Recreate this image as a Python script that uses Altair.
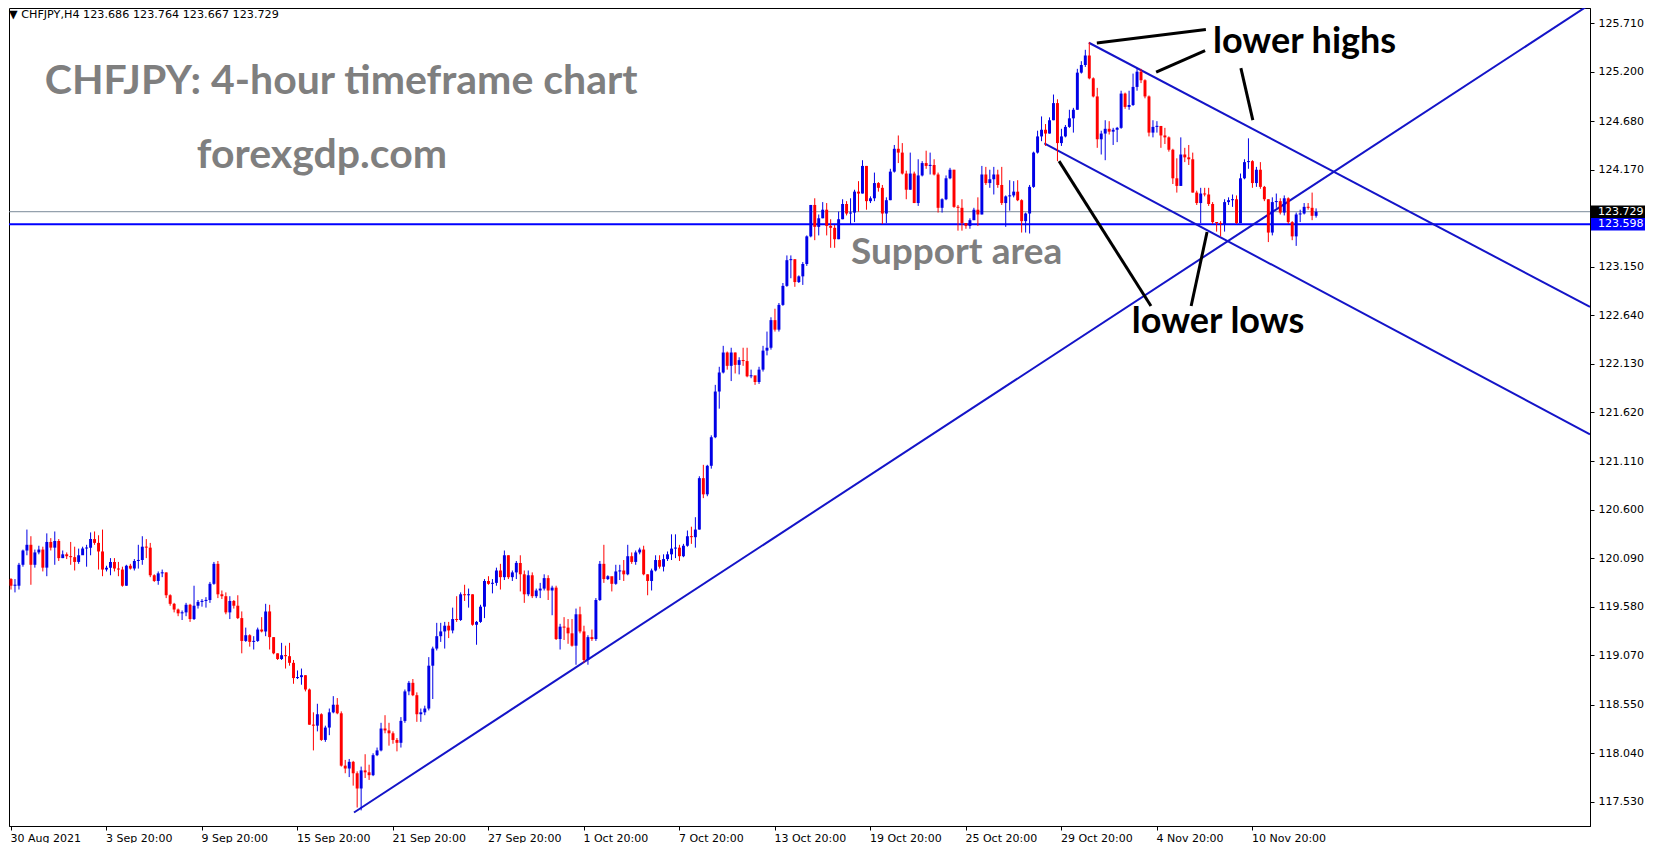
import altair as alt
import pandas as pd

# ---------------- data ----------------
first_open = 119.87
closes = [
    119.80, 119.80, 120.02, 120.17, 120.23, 120.02, 120.15, 120.18, 119.99, 120.26,
    120.20, 120.27, 120.09, 120.13, 120.11, 120.10, 120.05, 120.12, 120.19, 120.20,
    120.29, 120.25, 120.16, 119.97, 119.99, 120.05, 119.98, 119.97, 119.80, 120.01,
    119.98, 120.06, 120.07, 120.21, 120.20, 119.91, 119.85, 119.93, 119.94, 119.70,
    119.61, 119.55, 119.51, 119.52, 119.60, 119.45, 119.59, 119.63, 119.64, 119.65,
    119.82, 120.03, 119.71, 119.69, 119.52, 119.64, 119.59, 119.46, 119.22, 119.28,
    119.21, 119.22, 119.34, 119.32, 119.53, 119.26, 119.09, 119.03, 119.07, 119.06,
    118.99, 118.83, 118.84, 118.86, 118.71, 118.34, 118.33, 118.45, 118.18, 118.31,
    118.47, 118.55, 118.46, 117.91, 117.88, 117.95, 117.83, 117.67, 117.86, 117.84,
    117.81, 118.02, 118.07, 118.30, 118.28, 118.25, 118.18, 118.15, 118.38, 118.69,
    118.78, 118.65, 118.45, 118.47, 118.51, 118.96, 119.14, 119.27, 119.32, 119.38,
    119.33, 119.45, 119.44, 119.71, 119.70, 119.71, 119.39, 119.42, 119.58, 119.85,
    119.82, 119.83, 119.96, 119.89, 120.12, 119.89, 119.94, 120.04, 119.92, 119.71,
    119.91, 119.69, 119.75, 119.77, 119.88, 119.75, 119.78, 119.24, 119.37, 119.36,
    119.30, 119.17, 119.50, 119.32, 119.02, 119.26, 119.24, 119.65, 120.03, 119.87,
    119.90, 119.82, 119.95, 119.96, 119.92, 120.11, 120.05, 120.15, 120.18, 119.92,
    119.85, 119.96, 120.07, 120.00, 120.08, 120.13, 120.19, 120.20, 120.11, 120.22,
    120.32, 120.31, 120.39, 120.93, 120.76, 121.06, 121.36, 121.84, 122.04, 122.25,
    122.11, 122.25, 122.12, 122.17, 122.16, 122.00, 122.01, 121.94, 122.07, 122.27,
    122.30, 122.59, 122.49, 122.75, 122.95, 123.22, 123.23, 122.99, 123.05, 123.18,
    123.47, 123.80, 123.57, 123.66, 123.75, 123.58, 123.56, 123.44, 123.65, 123.81,
    123.71, 123.72, 123.94, 123.92, 124.21, 123.84, 123.87, 124.03, 123.98, 123.71,
    123.85, 124.15, 124.39, 124.35, 124.13, 123.96, 124.13, 123.82, 124.11, 124.24,
    124.21, 124.22, 124.12, 123.77, 123.86, 124.08, 124.17, 123.78, 123.77, 123.61,
    123.58, 123.64, 123.75, 123.70, 124.12, 124.03, 124.07, 124.12, 124.01, 123.82,
    123.89, 123.90, 123.94, 123.85, 123.63, 123.71, 123.99, 124.35, 124.52, 124.59,
    124.55, 124.69, 124.87, 124.45, 124.52, 124.62, 124.71, 124.80, 125.19, 125.27,
    125.37, 125.13, 124.94, 124.49, 124.55, 124.60, 124.57, 124.59, 124.61, 124.97,
    124.83, 124.85, 125.04, 125.20, 125.11, 124.94, 124.56, 124.62, 124.63, 124.53,
    124.51, 124.38, 124.08, 124.00, 124.33, 124.30, 124.28, 123.93, 123.82, 123.92,
    123.91, 123.81, 123.62, 123.61, 123.60, 123.83, 123.85, 123.86, 123.61, 124.08,
    124.25, 124.26, 124.03, 124.17, 123.99, 123.86, 123.51, 123.83, 123.84, 123.72,
    123.87, 123.62, 123.47, 123.70, 123.71, 123.78, 123.77, 123.686, 123.729,
]
highs = [
    119.88, 119.87, 120.04, 120.18, 120.39, 120.32, 120.18, 120.22, 120.21, 120.35,
    120.30, 120.37, 120.29, 120.17, 120.15, 120.26, 120.21, 120.19, 120.21, 120.23,
    120.36, 120.37, 120.33, 120.39, 120.01, 120.09, 120.09, 120.05, 120.00, 120.02,
    120.03, 120.08, 120.23, 120.32, 120.29, 120.25, 119.92, 119.95, 119.97, 119.94,
    119.71, 119.62, 119.56, 119.54, 119.62, 119.61, 119.80, 119.65, 119.66, 119.68,
    119.84, 120.05, 120.06, 119.75, 119.73, 119.69, 119.65, 119.70, 119.53, 119.36,
    119.29, 119.27, 119.36, 119.47, 119.61, 119.60, 119.26, 119.09, 119.20, 119.17,
    119.20, 119.02, 118.91, 118.93, 118.86, 118.72, 118.47, 118.56, 118.46, 118.33,
    118.51, 118.64, 118.62, 118.48, 117.97, 117.98, 117.96, 117.85, 117.90, 118.03,
    117.92, 118.04, 118.10, 118.36, 118.44, 118.36, 118.27, 118.20, 118.42, 118.71,
    118.80, 118.82, 118.68, 118.51, 118.54, 119.05, 119.16, 119.41, 119.41, 119.42,
    119.42, 119.57, 119.69, 119.73, 119.81, 119.77, 119.71, 119.43, 119.60, 119.87,
    119.90, 119.87, 119.99, 120.03, 120.17, 120.12, 119.96, 120.06, 120.12, 119.96,
    119.96, 119.94, 119.77, 119.83, 119.92, 119.91, 119.80, 119.80, 119.40, 119.47,
    119.45, 119.45, 119.56, 119.58, 119.38, 119.28, 119.34, 119.67, 120.06, 120.23,
    119.91, 119.84, 120.02, 120.02, 120.07, 120.23, 120.15, 120.17, 120.20, 120.22,
    119.92, 119.98, 120.12, 120.12, 120.13, 120.16, 120.34, 120.34, 120.23, 120.24,
    120.38, 120.42, 120.52, 120.95, 121.07, 121.07, 121.38, 121.91, 122.10, 122.32,
    122.26, 122.30, 122.25, 122.20, 122.30, 122.30, 122.07, 122.00, 122.10, 122.32,
    122.47, 122.62, 122.71, 122.77, 122.98, 123.27, 123.27, 123.23, 123.06, 123.20,
    123.48, 123.80, 123.87, 123.70, 123.83, 123.82, 123.65, 123.59, 123.73, 123.86,
    123.84, 123.87, 123.96, 124.05, 124.27, 124.21, 123.89, 124.14, 124.04, 124.01,
    123.88, 124.18, 124.43, 124.53, 124.45, 124.16, 124.35, 124.15, 124.28, 124.26,
    124.37, 124.35, 124.28, 124.14, 123.87, 124.11, 124.19, 124.17, 123.80, 123.86,
    123.61, 123.66, 123.77, 123.88, 124.21, 124.20, 124.17, 124.20, 124.17, 124.20,
    123.90, 124.06, 124.05, 124.06, 123.86, 123.72, 124.01, 124.36, 124.58, 124.73,
    124.65, 124.72, 124.96, 124.91, 124.60, 124.64, 124.80, 124.82, 125.23, 125.31,
    125.43, 125.51, 125.14, 125.03, 124.58, 124.69, 124.68, 124.61, 124.62, 125.00,
    124.98, 125.00, 125.18, 125.24, 125.23, 125.12, 124.95, 124.69, 124.68, 124.61,
    124.61, 124.52, 124.39, 124.29, 124.51, 124.40, 124.43, 124.35, 123.95, 123.98,
    123.98, 123.98, 123.83, 123.62, 123.63, 123.86, 123.88, 123.91, 123.90, 124.13,
    124.28, 124.50, 124.27, 124.20, 124.25, 124.00, 123.86, 123.88, 123.92, 123.87,
    123.90, 123.88, 123.63, 123.72, 123.75, 123.82, 123.82, 123.93, 123.764,
]
lows = [
    119.76, 119.73, 119.76, 120.00, 120.12, 119.81, 119.99, 120.13, 119.95, 119.90,
    120.17, 120.02, 120.06, 120.09, 120.08, 120.02, 119.96, 120.03, 120.15, 120.00,
    120.12, 120.23, 119.97, 119.90, 119.95, 119.91, 119.95, 119.90, 119.79, 119.80,
    119.97, 119.96, 119.98, 120.02, 120.09, 119.89, 119.84, 119.81, 119.89, 119.67,
    119.59, 119.52, 119.48, 119.44, 119.48, 119.42, 119.44, 119.56, 119.58, 119.57,
    119.62, 119.81, 119.67, 119.66, 119.50, 119.45, 119.56, 119.45, 119.09, 119.21,
    119.16, 119.13, 119.21, 119.31, 119.27, 119.13, 119.08, 119.02, 119.02, 118.93,
    118.96, 118.77, 118.82, 118.76, 118.69, 118.34, 118.07, 118.27, 118.17, 118.16,
    118.23, 118.46, 118.45, 117.90, 117.83, 117.79, 117.70, 117.47, 117.44, 117.78,
    117.76, 117.80, 118.01, 118.06, 118.25, 118.12, 118.14, 118.06, 118.10, 118.36,
    118.65, 118.64, 118.37, 118.37, 118.44, 118.49, 118.61, 119.12, 119.21, 119.14,
    119.25, 119.30, 119.42, 119.43, 119.64, 119.57, 119.38, 119.18, 119.41, 119.46,
    119.81, 119.72, 119.80, 119.76, 119.86, 119.87, 119.85, 119.87, 119.74, 119.62,
    119.69, 119.67, 119.67, 119.67, 119.75, 119.65, 119.49, 119.23, 119.13, 119.23,
    119.19, 119.16, 118.97, 119.30, 118.99, 118.97, 119.22, 119.22, 119.64, 119.83,
    119.86, 119.74, 119.81, 119.86, 119.85, 119.91, 120.03, 120.02, 120.13, 119.91,
    119.70, 119.75, 119.95, 119.98, 119.95, 120.06, 120.07, 120.09, 120.06, 120.10,
    120.21, 120.24, 120.20, 120.39, 120.72, 120.74, 121.03, 121.35, 121.66, 122.03,
    122.07, 121.95, 122.03, 122.02, 122.11, 121.99, 121.98, 121.91, 121.92, 122.05,
    122.22, 122.28, 122.47, 122.47, 122.74, 122.94, 123.03, 122.94, 122.98, 122.96,
    123.16, 123.46, 123.43, 123.48, 123.66, 123.48, 123.35, 123.35, 123.44, 123.65,
    123.69, 123.60, 123.62, 123.73, 123.92, 123.75, 123.82, 123.84, 123.94, 123.60,
    123.61, 123.85, 124.14, 124.24, 124.12, 123.86, 123.96, 123.82, 123.79, 124.10,
    124.18, 124.12, 124.11, 123.72, 123.72, 123.85, 124.07, 123.77, 123.53, 123.53,
    123.55, 123.55, 123.64, 123.58, 123.70, 124.01, 123.98, 123.91, 123.98, 123.80,
    123.57, 123.74, 123.88, 123.84, 123.51, 123.51, 123.50, 123.98, 124.34, 124.47,
    124.42, 124.55, 124.69, 124.26, 124.42, 124.51, 124.61, 124.56, 124.80, 125.18,
    125.25, 125.12, 124.93, 124.40, 124.33, 124.27, 124.54, 124.43, 124.46, 124.60,
    124.81, 124.80, 124.84, 125.00, 125.08, 124.92, 124.52, 124.51, 124.56, 124.40,
    124.44, 124.36, 124.02, 123.93, 124.00, 124.25, 124.22, 123.93, 123.80, 123.61,
    123.89, 123.79, 123.60, 123.52, 123.47, 123.52, 123.80, 123.78, 123.60, 123.61,
    124.07, 124.18, 123.98, 123.99, 123.97, 123.84, 123.41, 123.48, 123.77, 123.70,
    123.69, 123.60, 123.43, 123.37, 123.62, 123.70, 123.75, 123.64, 123.667,
]

tick_bars = [0, 24, 48, 72, 96, 120, 144, 168, 192, 216, 240, 264, 288, 312]
tick_labels = ["30 Aug 2021", "3 Sep 20:00", "9 Sep 20:00", "15 Sep 20:00",
               "21 Sep 20:00", "27 Sep 20:00", "1 Oct 20:00", "7 Oct 20:00",
               "13 Oct 20:00", "19 Oct 20:00", "25 Oct 20:00", "29 Oct 20:00",
               "4 Nov 20:00", "10 Nov 20:00"]
price_ticks = [125.710, 125.200, 124.680, 124.170, 123.150, 122.640, 122.130,
               121.620, 121.110, 120.600, 120.090, 119.580, 119.070, 118.550,
               118.040, 117.530]

bid_price = 123.729
support_price = 123.598

# trend lines (bar index, price)
trend_id = ["up", "up", "hi", "hi", "lo", "lo"]
trend_bar = [86.2, 396.84, 270.9, 396.84, 259.7, 396.84]
trend_price = [117.418, 125.908, 125.504, 122.73, 124.447, 121.39]

# black pointer lines
ptr_id = ["a1", "a1", "a2", "a2", "a3", "a3", "b1", "b1", "b2", "b2"]
ptr_bar = [272.9, 300.3, 287.8, 300.1, 309.1, 312.1, 263.4, 286.5, 300.6, 296.6]
ptr_price = [125.501, 125.643, 125.196, 125.422, 125.238, 124.692,
             124.261, 122.738, 123.516, 122.738]

# ---------------- build tables ----------------
n = len(closes)
opens = [first_open] + closes[:-1]
df = pd.DataFrame({"i": list(range(n)), "open": opens, "high": highs,
                   "low": lows, "close": closes})

BLUE = "#0000e6"
RED = "#ff0000"
LINE_BLUE = "#1414c8"

X_DOM = [-0.503, 396.84]
Y_DOM = [117.276, 125.869]
W, H = 1581, 818

label_arr = "[" + ",".join("'%s'" % s for s in tick_labels) + "]"

xscale = alt.Scale(domain=X_DOM, nice=False, zero=False)
yscale = alt.Scale(domain=Y_DOM, nice=False, zero=False)

xaxis = alt.Axis(values=tick_bars, labelExpr=label_arr + "[round(datum.value/24)]",
                 orient="bottom", tickSize=4, labelAlign="left", labelPadding=2,
                 labelOffset=-1, title=None, grid=False, labelOverlap=False,
                 labelFlush=False)
yaxis = alt.Axis(values=price_ticks, format=".3f", orient="right", tickSize=4,
                 labelPadding=4, title=None, grid=False, labelOverlap=False,
                 labelFlush=False)

color_cond = alt.condition("datum.close >= datum.open", alt.value(BLUE), alt.value(RED))

base = alt.Chart(df)

wicks = base.mark_rule(strokeWidth=1).encode(
    x=alt.X("i:Q", scale=xscale, axis=xaxis),
    y=alt.Y("low:Q", scale=yscale, axis=yaxis),
    y2="high:Q",
    color=color_cond,
)

bodies = base.transform_calculate(
    xl="datum.i - 0.37",
    xr="datum.i + 0.37",
    bb="min(datum.open, datum.close)",
    bt="max(max(datum.open, datum.close), min(datum.open, datum.close) + 0.011)",
).mark_rect().encode(
    x=alt.X("xl:Q", scale=xscale),
    x2="xr:Q",
    y=alt.Y("bb:Q", scale=yscale),
    y2="bt:Q",
    color=color_cond,
)

hlines_df = pd.DataFrame({"p": [bid_price, support_price]})
bid_line = alt.Chart(hlines_df.iloc[[0]]).mark_rule(color="#7a8a99", strokeWidth=1).encode(
    y=alt.Y("p:Q", scale=yscale))
sup_line = alt.Chart(hlines_df.iloc[[1]]).mark_rule(color="#0000ff", strokeWidth=2).encode(
    y=alt.Y("p:Q", scale=yscale))

trend_df = pd.DataFrame({"id": trend_id, "i": trend_bar, "p": trend_price})
trends = alt.Chart(trend_df).mark_line(color=LINE_BLUE, strokeWidth=2, clip=True).encode(
    x=alt.X("i:Q", scale=xscale), y=alt.Y("p:Q", scale=yscale), detail="id:N")

ptr_df = pd.DataFrame({"id": ptr_id, "i": ptr_bar, "p": ptr_price})
pointers = alt.Chart(ptr_df).mark_line(color="#000000", strokeWidth=3, clip=True).encode(
    x=alt.X("i:Q", scale=xscale), y=alt.Y("p:Q", scale=yscale), detail="id:N")

gray_txt_df = pd.DataFrame({
    "t": ["CHFJPY: 4-hour timeframe chart", "forexgdp.com", "Support area"],
    "i": [8.5, 46.7, 211.1],
    "p": [125.091, 124.314, 123.295],
})
gray_big = alt.Chart(gray_txt_df.iloc[0:2]).mark_text(
    font="Lato", fontWeight="bold", fontSize=41, color="#7f7f7f",
    align="left", baseline="middle").encode(
    x=alt.X("i:Q", scale=xscale), y=alt.Y("p:Q", scale=yscale), text="t:N")
gray_sup = alt.Chart(gray_txt_df.iloc[2:3]).mark_text(
    font="Lato", fontWeight="bold", fontSize=37, color="#7f7f7f",
    align="left", baseline="middle").encode(
    x=alt.X("i:Q", scale=xscale), y=alt.Y("p:Q", scale=yscale), text="t:N")

black_txt_df = pd.DataFrame({"t": ["lower highs", "lower lows"],
                             "i": [302.1, 281.7], "p": [125.511, 122.570]})
black_txt = alt.Chart(black_txt_df).mark_text(
    font="Lato", fontWeight="bold", fontSize=36, color="#000000",
    align="left", baseline="middle").encode(
    x=alt.X("i:Q", scale=xscale), y=alt.Y("p:Q", scale=yscale), text="t:N")

header_df = pd.DataFrame({"t": ["\u25bc CHFJPY,H4  123.686 123.764 123.667 123.729"],
                          "i": [X_DOM[0]], "p": [125.793]})
header = alt.Chart(header_df).mark_text(
    font="DejaVu Sans", fontSize=11.2, color="#000000", align="left",
    baseline="middle", dx=0).encode(
    x=alt.X("i:Q", scale=xscale), y=alt.Y("p:Q", scale=yscale), text="t:N")

box_df = pd.DataFrame({"p": [bid_price, support_price],
                       "lo": [bid_price - 0.066, support_price - 0.066],
                       "hi": [bid_price + 0.066, support_price + 0.066],
                       "t": ["123.729", "123.598"],
                       "c": ["#000000", "#0000ff"]})
boxes = alt.Chart(box_df).mark_rect().encode(
    x=alt.value(W + 1), x2=alt.value(W + 55),
    y=alt.Y("lo:Q", scale=yscale), y2="hi:Q",
    color=alt.Color("c:N", scale=None, legend=None))
box_txt = alt.Chart(box_df).mark_text(
    font="DejaVu Sans", fontSize=11, color="#ffffff", align="left",
    baseline="middle").encode(
    x=alt.value(W + 8), y=alt.Y("p:Q", scale=yscale), text="t:N")

chart = alt.layer(
    bid_line, sup_line, trends, wicks, bodies, pointers,
    gray_big, gray_sup, black_txt, header, boxes, box_txt,
).properties(
    width=W, height=H, padding=0, background="#ffffff",
).configure_view(
    stroke="#000000", strokeWidth=1,
).configure_axis(
    domainColor="#000000", tickColor="#000000", labelColor="#000000",
    labelFont="DejaVu Sans", labelFontSize=11, domainWidth=1, tickWidth=1,
)

chart.save("out.html", embed_options={"renderer": "svg", "actions": False})
